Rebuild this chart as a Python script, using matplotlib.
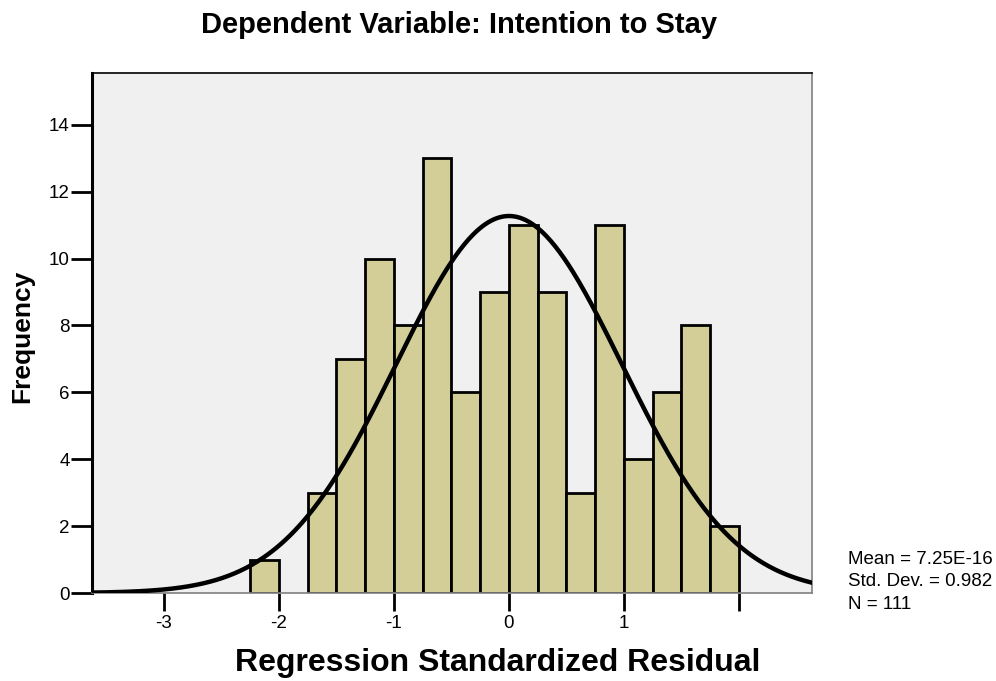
import numpy as np
import matplotlib
matplotlib.use("Agg")
import matplotlib.pyplot as plt

plt.rcParams['font.family'] = ['Liberation Sans', 'DejaVu Sans']

# Data
bin_edges = [-2.25, -2.0, -1.75, -1.5, -1.25, -1.0, -0.75, -0.5, -0.25, 0.0,
             0.25, 0.5, 0.75, 1.0, 1.25, 1.5, 1.75, 2.0]
counts = [1, 0, 3, 7, 10, 8, 13, 6, 9, 11, 9, 3, 11, 4, 6, 8, 2]
mean_val = 7.25e-16
sd_val = 0.982
n_val = 111
x_ticks = [-3, -2, -1, 0, 1, 2]
x_tick_labels = ['-3', '-2', '-1', '0', '1', '']
y_ticks = [0, 2, 4, 6, 8, 10, 12, 14]

fig = plt.figure(figsize=(9.96, 6.81), dpi=100)
ax = fig.add_axes([92/996, 1-593/681, (812-92)/996, (593-73)/681])
ax.set_facecolor('#F0F0F0')

edges = np.array(bin_edges)
widths = np.diff(edges)
for left, w, c in zip(edges[:-1], widths, counts):
    if c > 0:
        ax.bar(left, c, width=w, align='edge', color='#D3CE98',
               edgecolor='black', linewidth=2, zorder=2)

xs = np.linspace(-3.7, 2.7, 500)
bw = widths[0]
ys = n_val * bw / (sd_val * np.sqrt(2*np.pi)) * np.exp(-0.5*((xs-mean_val)/sd_val)**2)
ax.plot(xs, ys, color='black', linewidth=3.2, zorder=3)

ax.set_xlim(-3.626, 2.635)
ax.set_ylim(0, 15.55)
ax.set_xticks(x_ticks)
ax.set_xticklabels(x_tick_labels)
ax.set_yticks(y_ticks)
ax.tick_params(axis='both', direction='out', length=14, width=2, labelsize=13.5, colors='black')
ax.tick_params(axis='x', length=13, pad=3)
ax.tick_params(axis='y', length=15, pad=1)

ax.spines['left'].set_linewidth(2.2)
ax.spines['left'].set_color('black')
ax.spines['top'].set_linewidth(1.2)
ax.spines['top'].set_color('black')
ax.spines['right'].set_linewidth(1.2)
ax.spines['right'].set_color('#808080')
ax.spines['bottom'].set_linewidth(1.2)
ax.spines['bottom'].set_color('#808080')

fig.text(459/996, 1-25/681, 'Dependent Variable: Intention to Stay', fontsize=21,
         fontweight='bold', ha='center', va='center')
fig.text(498/996, 1-663/681, 'Regression Standardized Residual', fontsize=23,
         fontweight='bold', ha='center', va='center')
fig.text(22/996, 1-336/681, 'Frequency', fontsize=19, fontweight='bold',
         ha='center', va='center', rotation=90)

fig.text(848/996, 1-582/681, 'Mean = 7.25E-16\nStd. Dev. = 0.982\nN = 111',
         fontsize=13.5, va='center', ha='left', linespacing=1.4)

fig.savefig('out.png', dpi=100)
